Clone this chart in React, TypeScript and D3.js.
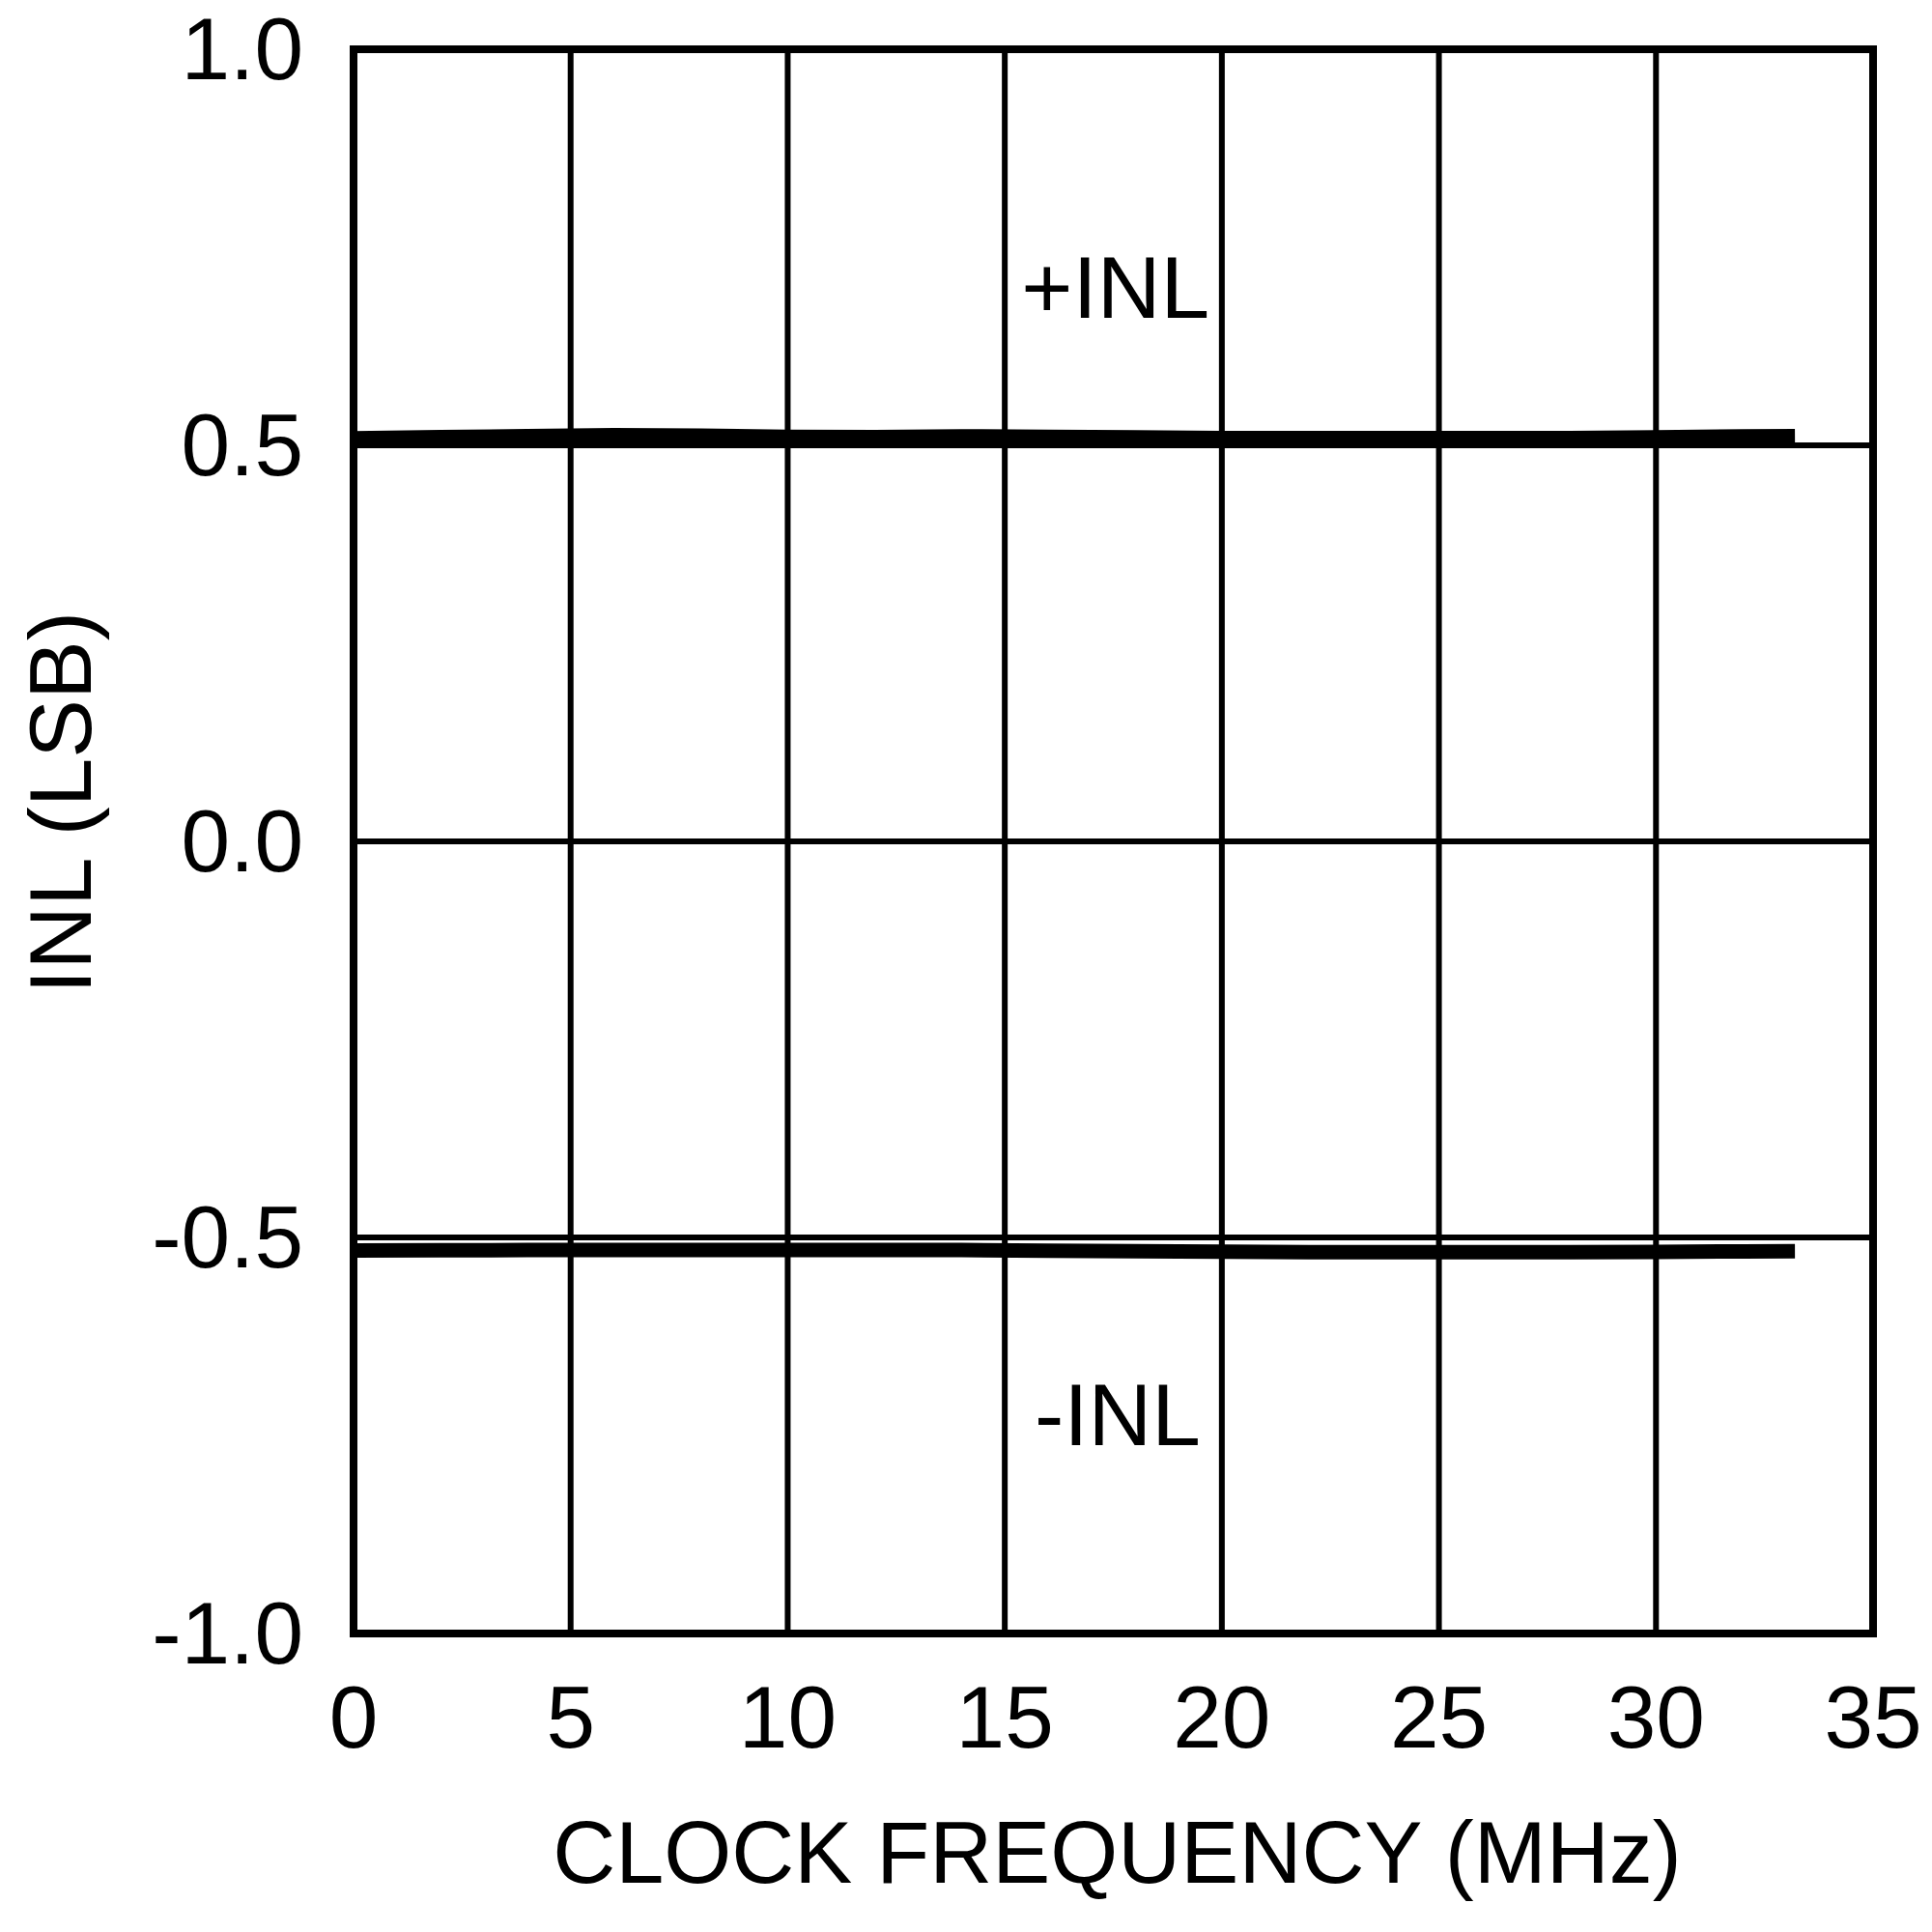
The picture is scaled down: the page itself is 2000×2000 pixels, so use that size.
import React from 'react'
import * as d3 from 'd3'

// clock frequency (MHz) where INL was measured
const freqs = [0, 2, 4, 6, 8, 10, 12, 14, 16, 18, 20, 22, 24, 26, 28, 30, 32, 33.2]
const posInl = [0.5088, 0.5104, 0.5116, 0.5128, 0.5122, 0.5108, 0.5104, 0.5114, 0.5106, 0.5102, 0.5092, 0.509, 0.509, 0.509, 0.5092, 0.5102, 0.5112, 0.5116]
const negInl = [-0.5165, -0.5162, -0.516, -0.516, -0.516, -0.516, -0.516, -0.516, -0.5168, -0.5175, -0.518, -0.5185, -0.5187, -0.5187, -0.5187, -0.5184, -0.5176, -0.5174]

const xTicks = [0, 5, 10, 15, 20, 25, 30, 35]
const yTicks = [1.0, 0.5, 0.0, -0.5, -1.0]

const seriesLabels = [
  { text: '+INL', x: 17.55, y: 0.661 },
  { text: '-INL', x: 17.6, y: -0.762 },
]

const WIDTH = 2000
const HEIGHT = 2000
const margin = { top: 51, right: 61, bottom: 309, left: 366 }
const FONT = '"Liberation Sans", Arial, Helvetica, sans-serif'
const FS = 91

export default function App() {
  const x = d3.scaleLinear().domain([0, 35]).range([margin.left, WIDTH - margin.right])
  const y = d3.scaleLinear().domain([-1, 1]).range([HEIGHT - margin.bottom, margin.top])

  const line = d3
    .line<number>()
    .x((_, i) => x(freqs[i]))
    .y(d => y(d))
    .curve(d3.curveLinear)

  const [x0, x1] = x.range()
  const [yb, yt] = y.range()

  return (
    <div style={{ position: 'absolute', left: 0, top: 0 }}>
      <svg width={WIDTH} height={HEIGHT} style={{ display: 'block', background: '#fff' }}>
        {/* grid */}
        <g stroke="#000" strokeWidth={6}>
          {xTicks.slice(1, -1).map(t => (
            <line key={'gx' + t} x1={x(t)} x2={x(t)} y1={yt} y2={yb} />
          ))}
          {yTicks.slice(1, -1).map(t => (
            <line key={'gy' + t} x1={x0} x2={x1} y1={y(t)} y2={y(t)} />
          ))}
        </g>

        {/* curves */}
        <path d={line(posInl) || ''} fill="none" stroke="#000" strokeWidth={15} strokeLinecap="butt" />
        <path d={line(negInl) || ''} fill="none" stroke="#000" strokeWidth={15} strokeLinecap="butt" />

        {/* frame */}
        <rect x={x0} y={yt} width={x1 - x0} height={yb - yt} fill="none" stroke="#000" strokeWidth={8} />

        <g fontFamily={FONT} fontSize={FS} fill="#000">
          {yTicks.map(t => (
            <text key={'yl' + t} x={x0 - 52} y={y(t) + 31} textAnchor="end">
              {d3.format('.1f')(t).replace('−', '-')}
            </text>
          ))}
          {xTicks.map(t => (
            <text key={'xl' + t} x={x(t)} y={yb + 118} textAnchor="middle">
              {t}
            </text>
          ))}
          {seriesLabels.map(l => (
            <text key={l.text} x={x(l.x)} y={y(l.y)} textAnchor="middle">
              {l.text}
            </text>
          ))}
          <text x={(x0 + x1) / 2 + 4} y={1949} textAnchor="middle" fontSize={90}>
            CLOCK FREQUENCY (MHz)
          </text>
          <text transform={`translate(94, ${(yt + yb) / 2 - 40}) rotate(-90)`} textAnchor="middle">
            INL (LSB)
          </text>
        </g>
      </svg>
    </div>
  )
}
